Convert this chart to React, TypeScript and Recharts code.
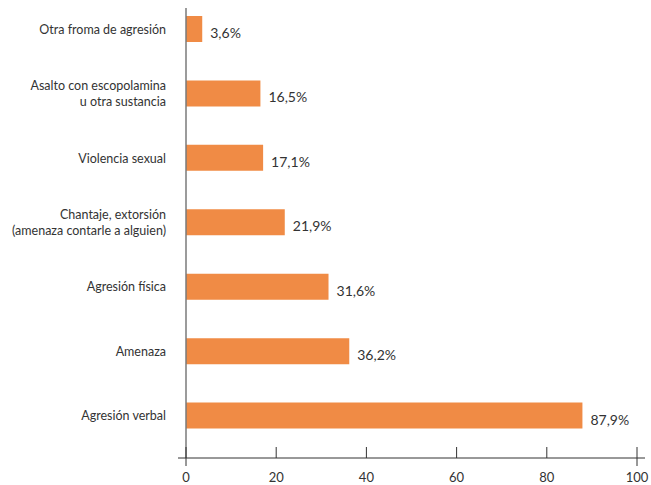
import { Bar, BarChart, LabelList, ReferenceLine, XAxis, YAxis } from "recharts";

const categories = [
  "Otra froma de agresión",
  "Asalto con escopolamina\nu otra sustancia",
  "Violencia sexual",
  "Chantaje, extorsión\n(amenaza contarle a alguien)",
  "Agresión física",
  "Amenaza",
  "Agresión verbal",
];
const values = [3.6, 16.5, 17.1, 21.9, 31.6, 36.2, 87.9];
const xTicks = [0, 20, 40, 60, 80, 100];

const data = categories.map((name, i) => ({ name, value: values[i] }));

const FONT = "Lato, 'Open Sans', sans-serif";
const TEXT = "#333333";

const CategoryTick = (props: any) => {
  const { x, y, payload } = props;
  const lines = String(payload.value).split("\n");
  const lineH = 16;
  const start = y - ((lines.length - 1) * lineH) / 2;
  return (
    <text x={x} y={start} textAnchor="end" fontSize={12.5} fill={TEXT} fontFamily={FONT}>
      {lines.map((l, i) => (
        <tspan key={i} x={x} y={start + i * lineH} dy={4.5}>
          {l}
        </tspan>
      ))}
    </text>
  );
};

const ValueTick = (props: any) => {
  const { x, y, payload } = props;
  const edge = payload.value === 0 || payload.value === 100;
  return (
    <g>
      <line x1={x} x2={x} y1={y - 11} y2={edge ? y + 8 : y} stroke="#333" strokeWidth={1} />
      <text x={x} y={y + 23.5} textAnchor="middle" fontSize={13} fill={TEXT} fontFamily={FONT}>
        {payload.value}
      </text>
    </g>
  );
};

const ValueLabel = (props: any) => {
  const { x, y, width, height, value } = props;
  return (
    <text
      x={x + width + 8}
      y={y + height / 2 + 9}
      fontSize={14}
      fill={TEXT}
      fontFamily={FONT}
    >
      {String(value).replace(".", ",")}%
    </text>
  );
};

export default function App() {
  return (
    <div style={{ position: "absolute", left: 0, top: 0, width: 651, height: 485, background: "#fff" }}>
      <BarChart
        width={651}
        height={485}
        data={data}
        layout="vertical"
        margin={{ top: 8, right: 6, bottom: 0, left: 0 }}
      >
        <XAxis
          type="number"
          domain={[0, 100]}
          ticks={xTicks}
          padding={{ left: 8, right: 8 }}
          height={27}
          axisLine={{ stroke: "#333", strokeWidth: 1 }}
          tickLine={false}
          tickSize={0}
          tickMargin={0}
          tick={<ValueTick />}
        />
        <YAxis
          type="category"
          dataKey="name"
          width={178}
          padding={{ top: -11, bottom: 10 }}
          axisLine={false}
          tickLine={false}
          tickSize={0}
          tickMargin={12}
          tick={<CategoryTick />}
          interval={0}
        />
        <ReferenceLine x={0} stroke="#7a7a7a" strokeWidth={1.5} />
        <Bar dataKey="value" fill="#F08B45" barSize={26} isAnimationActive={false}>
          <LabelList dataKey="value" content={<ValueLabel />} />
        </Bar>
      </BarChart>
    </div>
  );
}
